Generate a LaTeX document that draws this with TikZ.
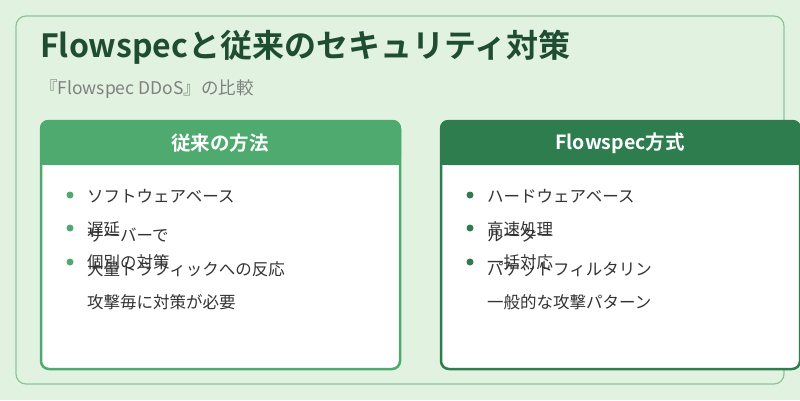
\documentclass[tikz,border=0pt]{standalone}
\usepackage{fontspec}
\setmainfont{Noto Sans CJK JP}[BoldFont={Noto Sans CJK JP Bold}]
\usepackage{xcolor}
\definecolor{mybg}{HTML}{E1F2E0}
\definecolor{myedge}{HTML}{8CC49A}
\definecolor{mytitle}{HTML}{1E4D33}
\definecolor{mylight}{HTML}{4FAA70}
\definecolor{mydark}{HTML}{2E7D4F}
\definecolor{mytext}{HTML}{333333}
\tikzset{
  card/.style={draw=#1, line width=2.5pt, rounded corners=8pt, fill=white},
  head/.style={font=\bfseries\fontsize{19.5}{21}\selectfont, text=white},
  item/.style={anchor=west, font=\fontsize{16.5}{18}\selectfont, text=mytext, inner sep=0pt},
  dot/.style={circle, fill=#1, inner sep=0pt, minimum size=7pt}
}
\begin{document}
\begin{tikzpicture}[x=1pt, y=-1pt]
    \useasboundingbox (0,0) rectangle (800,400);
    \fill[mybg] (0,0) rectangle (800,400);
    \draw[myedge, line width=1.2pt, fill=mybg, rounded corners=10pt] (16,16) rectangle (784,384);
    \node[anchor=west, inner sep=0pt, font=\bfseries\fontsize{32}{34}\selectfont, text=mytitle] (title) at (40,47) {Flowspecと従来のセキュリティ対策};
    \node[anchor=west, inner sep=0pt, font=\fontsize{17.5}{19}\selectfont, text=gray] (sub) at (40,89) {『Flowspec DDoS』の比較};
    % left card
    \draw[card=mylight] (41,121) rectangle (400,369);
    \fill[mylight, rounded corners=8pt] (40,120) rectangle (401,165);
    \fill[mylight] (40,150) rectangle (401,165);
    \node[head] (lhead) at (220,143) {従来の方法};
    \node[dot=mylight] (l1) at (70,195) {};
    \node[dot=mylight] (l2) at (70,228) {};
    \node[dot=mylight] (l3) at (70,262) {};
    \node[item] (l1t) at (87,196) {ソフトウェアベース};
    \node[item] (l2t) at (87,229) {遅延};
    \node[item] (l3t) at (87,262) {個別の対策};
    \node[item] (l4t) at (87,235) {サーバーで};
    \node[item] (l5t) at (87,269) {大量トラフィックへの反応};
    \node[item] (l6t) at (87,302) {攻撃毎に対策が必要};
    % right card
    \draw[card=mydark] (441,121) rectangle (800,369);
    \fill[mydark, rounded corners=8pt] (440,120) rectangle (801,165);
    \fill[mydark] (440,150) rectangle (801,165);
    \node[head] (rhead) at (620,143) {Flowspec方式};
    \node[dot=mydark] (r1) at (470,195) {};
    \node[dot=mydark] (r2) at (470,228) {};
    \node[dot=mydark] (r3) at (470,262) {};
    \node[item] (r1t) at (487,196) {ハードウェアベース};
    \node[item] (r2t) at (487,229) {高速処理};
    \node[item] (r3t) at (487,262) {一括対応};
    \node[item] (r4t) at (487,235) {ルーター};
    \node[item] (r5t) at (487,269) {パケットフィルタリン};
    \node[item] (r6t) at (487,302) {一般的な攻撃パターン};
\end{tikzpicture}
\end{document}
